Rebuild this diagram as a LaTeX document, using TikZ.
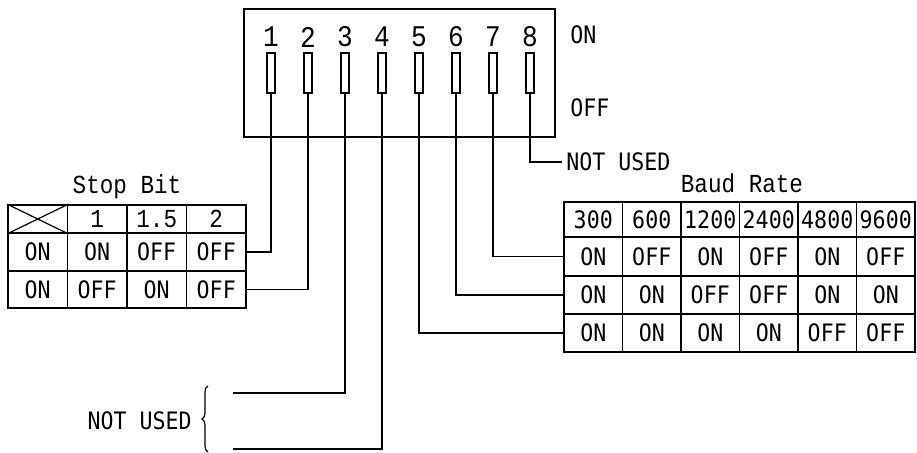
\documentclass[tikz,border=0pt]{standalone}
\usepackage{fontspec}
\usetikzlibrary{positioning,calc,decorations.pathreplacing}
\newfontfamily\dipsans[FakeStretch=0.9]{DejaVu Sans Mono}
\newfontfamily\dipserif[FakeStretch=0.87]{Liberation Mono}
\tikzset{
  dipbox/.style={draw, line width=1pt},
  lever/.style={draw, line width=0.8pt, minimum width=4pt, minimum height=20pt, inner sep=0pt},
  levnum/.style={font=\dipserif\fontsize{15}{15}\selectfont, inner sep=0pt},
  cell/.style={draw, line width=0.9pt, minimum height=#1, inner sep=0pt,
               font=\dipsans\fontsize{12}{12}\selectfont},
  cell/.default=19pt,
  sbcell/.style={cell=#1, minimum width=29.75pt},
  brcell/.style={cell=#1, minimum width=29.25pt},
  sidelabel/.style={font=\dipsans\fontsize{12}{12}\selectfont, inner sep=2pt},
  tabtitle/.style={font=\dipserif\fontsize{13}{13}\selectfont, inner sep=0pt},
  wire/.style={draw, line width=0.7pt},
}

\begin{document}
\begin{tikzpicture}[x=0.5pt, y=-0.5pt]
\useasboundingbox (0,0) rectangle (917,452);

% ---- the DIP switch
\draw[dipbox] (244,9) rectangle (555,137);
\foreach \k in {1,...,8} {
  \node[levnum] (n\k) at ({271+37*(\k-1)},37) {\k};
  \node[lever]  (s\k) at ({271+37*(\k-1)},73) {};
}
\node[sidelabel, anchor=west] (on)  at (566,35)  {ON};
\node[sidelabel, anchor=west] (off) at (566,108) {OFF};

% ---- stop bit table
\node[tabtitle] (sbt) at (127,187) {Stop Bit};
\node[sbcell=14pt] (sb-0-1) at (37.75,219) {};
\draw[line width=0.6pt] (sb-0-1.north west) -- (sb-0-1.south east)
                        (sb-0-1.south west) -- (sb-0-1.north east);
\foreach \lbl [count=\c from 2] in {1,1.5,2}
  \node[sbcell=14pt, font=\dipserif\fontsize{13}{13}\selectfont] (sb-0-\c) at ({8+59.5*(\c-0.5)},219) {\lbl};
\foreach \row/\yy/\hh/\vals in {1/252/19pt/{ON,ON,OFF,OFF}, 2/289.5/18.5pt/{ON,OFF,ON,OFF}}
  \foreach \v [count=\c] in \vals
    \node[sbcell=\hh] (sb-\row-\c) at ({8+59.5*(\c-0.5)},\yy) {\v};

% ---- baud rate table
\node[tabtitle] (brt) at (742,183) {Baud Rate};
\foreach \lbl [count=\c] in {300,600,1200,2400,4800,9600}
  \node[brcell=17.5pt] (br-0-\c) at ({564+58.5*(\c-0.5)},219.5) {\lbl};
\foreach \row/\yy/\hh/\vals in {1/256.5/19.5pt/{ON,OFF,ON,OFF,ON,OFF},
                                2/295/19pt/{ON,ON,OFF,OFF,ON,ON},
                                3/333/19pt/{ON,ON,ON,ON,OFF,OFF}}
  \foreach \v [count=\c] in \vals
    \node[brcell=\hh] (br-\row-\c) at ({564+58.5*(\c-0.5)},\yy) {\v};

% ---- not used
\node[sidelabel, anchor=west] (nu8) at (562,162) {NOT USED};
\coordinate (nu3) at (233,393);
\coordinate (nu4) at (233,449);
\draw[line width=0.6pt, decorate, decoration={brace, amplitude=3pt}] (208,452) -- (208,386);
\node[sidelabel, anchor=east] (nu34) at (196,421) {NOT USED};

% ---- wiring
\draw[wire] (s1.south) |- (sb-1-4.east);
\draw[wire] (s2.south) |- (sb-2-4.east);
\draw[wire] (s3.south) |- (nu3);
\draw[wire] (s4.south) |- (nu4);
\draw[wire] (s5.south) |- (br-3-1.west);
\draw[wire] (s6.south) |- (br-2-1.west);
\draw[wire] (s7.south) |- (br-1-1.west);
\draw[wire] (s8.south) |- (nu8.west);

\end{tikzpicture}
\end{document}
